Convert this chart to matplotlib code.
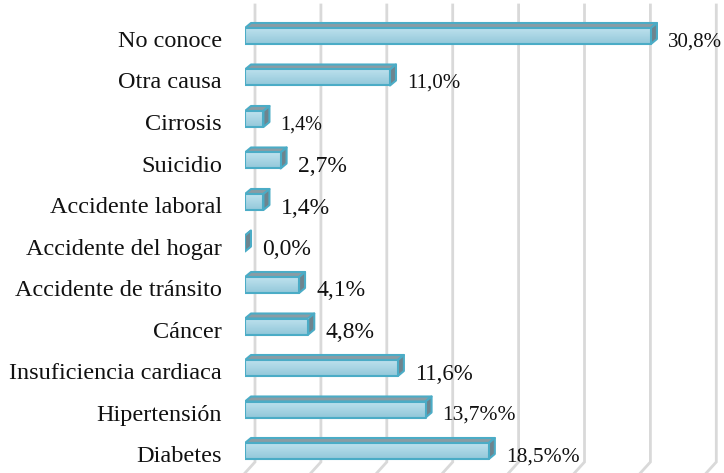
import numpy as np
import matplotlib.pyplot as plt
import matplotlib.transforms as mtransforms
from matplotlib.patches import Polygon, Rectangle
from matplotlib.colors import LinearSegmentedColormap

# data, bottom to top
categories = ["Diabetes", "Hipertensión", "Insuficiencia cardiaca", "Cáncer",
              "Accidente de tránsito", "Accidente del hogar", "Accidente laboral",
              "Suicidio", "Cirrosis", "Otra causa", "No conoce"]
values = [18.5, 13.7, 11.6, 4.8, 4.1, 0.0, 1.4, 2.7, 1.4, 11.0, 30.8]
value_labels = ["18,5%%", "13,7%%", "11,6%", "4,8%", "4,1%", "0,0%", "1,4%",
                "2,7%", "1,4%", "11,0%", "30,8%"]
label_sizes = [15.5, 15.5, 16.5, 17, 17, 17, 17, 17, 14.5, 15, 15]
grid_ticks = [0, 5, 10, 15, 20, 25, 30, 35]

plt.rcParams['font.family'] = ['Liberation Serif', 'DejaVu Serif']

W, H = 724, 473
fig = plt.figure(figsize=(W / 100, H / 100), dpi=100)
# pixel layout: x=0 at 245px, 13.18 px per %; rows 41.5 px apart
px_x = 13.18
px_y = 41.5
ylo, yhi = -0.5, 10.85
xlo, xhi = 0, 36
bottom_px = 451 + (0 - ylo) * px_y
ax_h = (yhi - ylo) * px_y
ax_w = (xhi - xlo) * px_x
ax = fig.add_axes([245 / W, (H - bottom_px) / H, ax_w / W, ax_h / H])
ax.set_xlim(xlo, xhi)
ax.set_ylim(ylo, yhi)

# 3d-ish depth in data units
dx = 6 / px_x
dy = 5 / px_y
bh = 16 / px_y

# back wall gridlines with floor slant
wall_off = 10 / px_x
y_top = (451 - 5) / px_y
y_floor = (451 - 462) / px_y
y_front = (451 - 473) / px_y
for t in grid_ticks:
    ax.plot([t + wall_off, t + wall_off, t], [y_top, y_floor, y_front],
            color="#d9d9d9", lw=2, zorder=1, clip_on=False,
            solid_joinstyle="miter")

grad = np.linspace(0, 1, 50).reshape(-1, 1)
cmap = LinearSegmentedColormap.from_list("bar", ["#93c8da", "#bfe2ee"])
edge = "#4bacc6"

for i, v in enumerate(values):
    y0 = i - bh / 2
    y1 = i + bh / 2
    # top face
    ax.add_patch(Polygon([(0, y1), (v, y1), (v + dx, y1 + dy), (dx, y1 + dy)],
                         closed=True, facecolor="#8a9ca4", edgecolor=edge,
                         lw=1.5, zorder=3, joinstyle="round"))
    # side face
    ax.add_patch(Polygon([(v, y0), (v, y1), (v + dx, y1 + dy), (v + dx, y0 + dy)],
                         closed=True, facecolor="#6e848e", edgecolor=edge,
                         lw=1.5, zorder=3, joinstyle="round"))
    # front face
    if v > 0:
        ax.imshow(grad, extent=(0, v, y0, y1), aspect="auto", cmap=cmap,
                  origin="lower", zorder=4)
        ax.add_patch(Rectangle((0, y0), v, bh, facecolor="none", edgecolor=edge,
                               lw=1.5, zorder=5, joinstyle="round"))
    ax.annotate(value_labels[i], xy=(v + dx, i), xytext=(11, -6),
                textcoords="offset pixels", va="center", ha="left",
                fontsize=label_sizes[i], color="#111111", zorder=6,
                annotation_clip=False)

ax.set_xlim(xlo, xhi)
ax.set_ylim(ylo, yhi)
ax.set_yticks(range(len(categories)))
ax.set_yticklabels(categories, fontsize=17.5, color="#111111")
ax.tick_params(axis="y", length=0, pad=16.5)
shift = mtransforms.ScaledTranslation(0, -3 / 100, fig.dpi_scale_trans)
for lbl in ax.get_yticklabels():
    lbl.set_transform(lbl.get_transform() + shift)
ax.set_xticks([])
for s in ax.spines.values():
    s.set_visible(False)
ax.patch.set_alpha(0)

fig.savefig("out.png", dpi=100)
